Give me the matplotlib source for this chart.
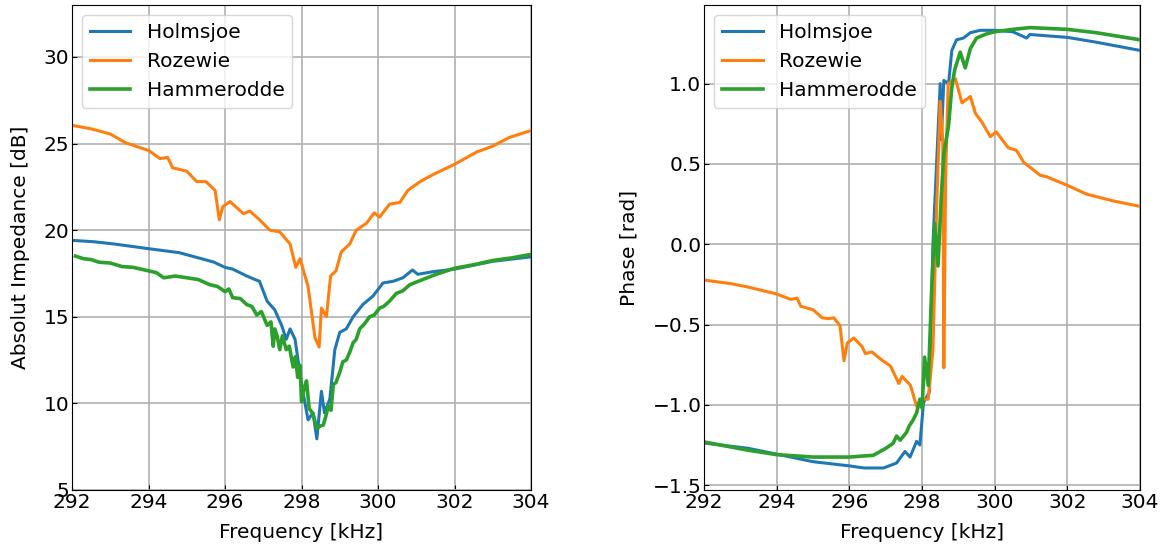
import matplotlib
matplotlib.use("Agg")
from matplotlib import pyplot

# --- absolute impedance [dB] ---
holm_f = [292.0, 292.57, 293.1, 294.0, 294.8, 295.2, 295.7, 296.0, 296.2, 296.57, 296.78, 296.9,
          297.1, 297.3, 297.48, 297.6, 297.7, 297.83, 298.0, 298.17, 298.3, 298.4, 298.52, 298.6,
          298.74, 298.87, 299.0, 299.17, 299.35, 299.6, 299.87, 300.13, 300.4, 300.65, 300.9,
          301.04, 301.43, 302.0, 303.0, 304.0]
holm_db = [19.41, 19.33, 19.2, 18.93, 18.7, 18.46, 18.16, 17.85, 17.75, 17.35, 17.15, 17.05,
           15.9, 15.4, 14.5, 13.7, 14.3, 13.7, 11.1, 9.05, 9.45, 7.95, 10.7, 9.45,
           10.25, 13.1, 14.1, 14.3, 15.0, 15.7, 16.2, 16.95, 17.05, 17.25, 17.7,
           17.45, 17.6, 17.75, 18.2, 18.46]

roz_f = [292.0, 292.5, 293.0, 293.4, 294.0, 294.3, 294.5, 294.63, 295.0, 295.26, 295.5, 295.74,
         295.85, 295.94, 296.13, 296.48, 296.65, 296.9, 297.17, 297.43, 297.7, 297.85, 297.96,
         298.17, 298.35, 298.46, 298.52, 298.65, 298.76, 298.9, 299.04, 299.26, 299.43, 299.7,
         299.9, 300.04, 300.3, 300.57, 300.78, 301.1, 301.43, 302.0, 302.57, 303.0, 303.43, 304.0]
roz_db = [26.05, 25.85, 25.55, 25.04, 24.6, 24.13, 24.2, 23.6, 23.4, 22.8, 22.8, 22.3,
          20.6, 21.35, 21.65, 20.95, 21.1, 20.6, 20.0, 19.9, 19.2, 17.85, 18.35,
          16.75, 13.8, 13.25, 15.5, 15.0, 17.35, 17.65, 18.75, 19.2, 20.0, 20.4,
          21.0, 20.75, 21.5, 21.6, 22.3, 22.8, 23.2, 23.8, 24.5, 24.85, 25.35, 25.75]

ham_f = [292.09, 292.3, 292.5, 292.7, 293.0, 293.3, 293.6, 294.0, 294.2, 294.4, 294.7, 295.0,
         295.3, 295.6, 295.8, 296.0, 296.1, 296.2, 296.4, 296.57, 296.7, 296.83, 296.95, 297.1,
         297.2, 297.26, 297.3, 297.36, 297.43, 297.5, 297.6, 297.68, 297.78, 297.84, 297.9,
         297.96, 298.0, 298.07, 298.13, 298.2, 298.3, 298.4, 298.5, 298.57, 298.64, 298.7,
         298.77, 298.83, 298.9, 299.0, 299.08, 299.17, 299.25, 299.35, 299.43, 299.52, 299.65,
         299.78, 299.9, 300.04, 300.15, 300.3, 300.48, 300.65, 300.83, 301.0, 301.17, 301.52,
         302.0, 302.5, 303.0, 303.5, 304.0]
ham_db = [18.5, 18.35, 18.3, 18.15, 18.1, 17.9, 17.85, 17.65, 17.55, 17.25, 17.35, 17.25,
          17.15, 16.85, 16.75, 16.45, 16.6, 16.1, 16.05, 15.7, 15.6, 15.1, 15.3, 14.5,
          14.7, 13.3, 14.3, 13.9, 13.1, 13.9, 13.1, 13.3, 12.1, 12.7, 11.5,
          12.2, 10.1, 10.9, 11.3, 9.7, 9.4, 8.55, 8.7, 8.75, 9.3, 9.85,
          9.6, 11.1, 11.2, 11.8, 12.4, 12.5, 12.9, 13.5, 13.7, 14.3, 14.6,
          15.0, 15.1, 15.5, 15.6, 15.9, 16.35, 16.5, 16.85, 17.0, 17.15, 17.45,
          17.8, 18.0, 18.25, 18.4, 18.6]

# --- phase [rad] ---
holm_pf = [292.0, 293.2, 294.0, 295.0, 296.0, 296.4, 296.94, 297.3, 297.53, 297.67, 297.85,
           297.94, 298.04, 298.2, 298.3, 298.5, 298.53, 298.6, 298.73, 298.82, 298.95, 299.14,
           299.33, 299.6, 300.0, 300.5, 300.88, 300.97, 302.0, 302.8, 304.0]
holm_ph = [-1.238, -1.27, -1.307, -1.354, -1.38, -1.393, -1.393, -1.362, -1.29, -1.325, -1.227,
           -1.25, -0.987, -0.921, -0.004, 1.0, 0.65, 1.02, 1.0, 1.207, 1.273, 1.284,
           1.317, 1.332, 1.332, 1.323, 1.284, 1.306, 1.288, 1.258, 1.207]

roz_pf = [292.0, 292.73, 293.2, 294.0, 294.38, 294.56, 294.66, 295.0, 295.25, 295.43, 295.57,
          295.74, 295.85, 295.94, 296.12, 296.35, 296.44, 296.62, 296.85, 297.13, 297.36, 297.45,
          297.68, 297.85, 298.0, 298.17, 298.3, 298.4, 298.5, 298.57, 298.6, 298.65, 298.72,
          298.92, 299.1, 299.33, 299.47, 299.65, 299.88, 300.04, 300.38, 300.6, 300.8, 301.25,
          301.43, 302.0, 302.53, 303.26, 304.0]
roz_ph = [-0.223, -0.245, -0.266, -0.31, -0.343, -0.336, -0.386, -0.408, -0.458, -0.463, -0.458,
          -0.507, -0.725, -0.616, -0.583, -0.638, -0.681, -0.67, -0.714, -0.758, -0.867, -0.823,
          -0.878, -1.009, -0.965, -0.965, -0.66, 0.214, 0.89, 0.65, -0.77, 0.43, 1.0,
          1.03, 0.88, 0.92, 0.815, 0.76, 0.67, 0.70, 0.6, 0.585, 0.51, 0.43,
          0.42, 0.367, 0.312, 0.27, 0.236]

ham_pf = [292.0, 293.2, 294.0, 295.0, 296.0, 296.66, 297.0, 297.2, 297.3, 297.4, 297.57, 297.65,
          297.75, 297.85, 297.94, 298.0, 298.07, 298.17, 298.26, 298.35, 298.44, 298.53, 298.6,
          298.73, 298.82, 298.9, 299.05, 299.19, 299.33, 299.5, 299.78, 300.0, 300.5, 300.97,
          302.0, 302.8, 304.0]
ham_ph = [-1.231, -1.282, -1.31, -1.325, -1.325, -1.314, -1.271, -1.24, -1.194, -1.22, -1.172, -1.13,
          -1.096, -1.05, -0.965, -1.02, -0.703, -0.878, -0.31, 0.127, -0.135, 0.301, 0.563,
          0.738, 0.978, 1.087, 1.196, 1.098, 1.218, 1.284, 1.31, 1.323, 1.338, 1.349,
          1.338, 1.317, 1.273]

pyplot.rcParams["font.size"] = 14.5

fig = pyplot.figure(figsize=(11.62, 5.49), dpi=100)
ax1 = fig.add_axes([0.062, 0.1075, 0.395, 0.8835])
ax2 = fig.add_axes([0.606, 0.1075, 0.375, 0.8835])

ax1.plot(holm_f, holm_db, label="Holmsjoe", linewidth=2.2)
ax1.plot(roz_f, roz_db, label="Rozewie", linewidth=2.2)
ax1.plot(ham_f, ham_db, label="Hammerodde", linewidth=2.6)
ax1.set_xlim(292, 304)
ax1.set_ylim(5, 33)
ax1.set_xlabel("Frequency [kHz]", labelpad=8)
ax1.set_ylabel("Absolut Impedance [dB]", labelpad=10)
ax1.legend(loc="upper left")

ax2.plot(holm_pf, holm_ph, label="Holmsjoe", linewidth=2.2)
ax2.plot(roz_pf, roz_ph, label="Rozewie", linewidth=2.2)
ax2.plot(ham_pf, ham_ph, label="Hammerodde", linewidth=2.6)
ax2.set_xlim(292, 304)
ax2.set_ylim(-1.53, 1.49)
ax2.set_xlabel("Frequency [kHz]", labelpad=8)
ax2.set_ylabel("Phase [rad]", labelpad=10)
ax2.legend(loc="upper left")

for ax in (ax1, ax2):
    ax.grid(True, linewidth=1.2)
    ax.tick_params(direction="in", pad=2)
    ax.set_xticks([292, 294, 296, 298, 300, 302, 304])

fig.savefig("out.png")
